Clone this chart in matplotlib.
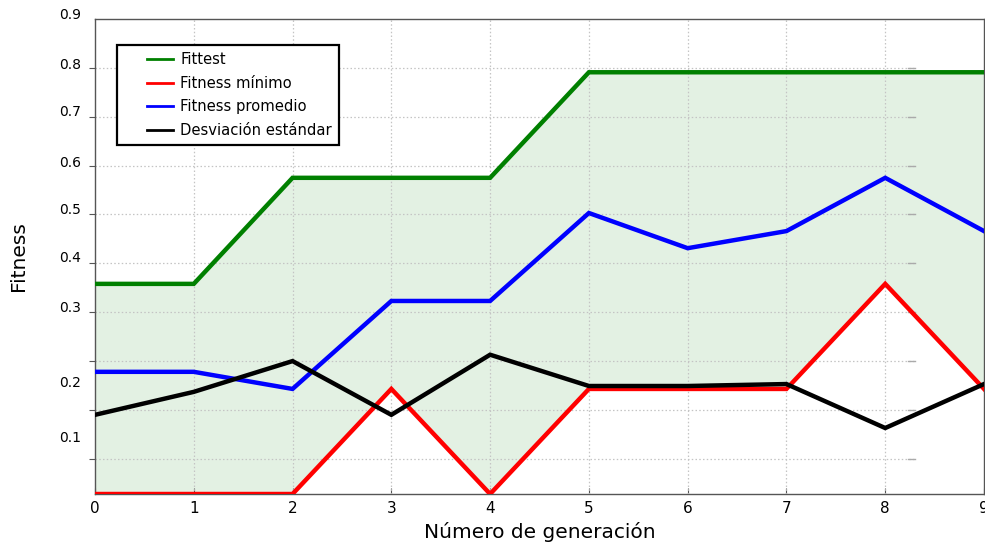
import matplotlib
matplotlib.use("Agg")
import matplotlib.pyplot as plt
from matplotlib.legend_handler import HandlerLine2D
from matplotlib.lines import Line2D
import matplotlib.transforms as mtransforms
import numpy as np

# ---- data ----
generaciones = [0, 1, 2, 3, 4, 5, 6, 7, 8, 9]
fittest = [0.358, 0.358, 0.575, 0.575, 0.575, 0.791, 0.791, 0.791, 0.791, 0.791]
fitness_minimo = [-0.072, -0.072, -0.072, 0.143, -0.072, 0.143, 0.143, 0.143, 0.358, 0.143]
fitness_promedio = [0.178, 0.178, 0.143, 0.323, 0.323, 0.503, 0.431, 0.466, 0.575, 0.466]
desviacion = [0.090, 0.137, 0.200, 0.090, 0.213, 0.149, 0.149, 0.153, 0.063, 0.153]

series_labels = ["Fittest", "Fitness mínimo", "Fitness promedio", "Desviación estándar"]
x_tick_labels = ["0", "1", "2", "3", "4", "5", "6", "7", "8", "9"]
y_tick_labels = ["0.9", "0.8", "0.7", "0.6", "0.5", "0.4", "0.3", "0.2", "0.1"]

# layout (where the y labels sit in the reference)
y_label_pos = [0.908, 0.806, 0.710, 0.605, 0.509, 0.411, 0.309, 0.155, 0.043]
grid_levels = [0.0, 0.1, 0.2, 0.3, 0.4, 0.5, 0.6, 0.7, 0.8]

fig = plt.figure(figsize=(9.85, 5.45), dpi=100)
ax = fig.add_axes([95 / 985, 51 / 545, 889 / 985, 475 / 545])

ax.set_xlim(0, 9)
ax.set_ylim(-0.072, 0.9)

ax.fill_between(generaciones, fitness_minimo, fittest, color="green", alpha=0.11, linewidth=0, zorder=1)

colors = ["green", "red", "blue", "black"]
for ys, c, lab in zip([fittest, fitness_minimo, fitness_promedio, desviacion], colors, series_labels):
    ax.plot(generaciones, ys, color=c, lw=3.2, label=lab, zorder=3, solid_joinstyle="miter")

# grid
gcol = "#c4c4c4"
for xv in generaciones[1:-1]:
    ax.axvline(xv, color=gcol, lw=0.9, ls=(0, (1.2, 1.8)), zorder=2)
gx_end = 8.3 / 9
for yv in grid_levels:
    ax.axhline(yv, xmin=0, xmax=gx_end, color=gcol, lw=0.9, ls=(0, (1.2, 1.8)), zorder=2)
    ax.axhline(yv, xmin=gx_end - 0.008, xmax=gx_end, color="#aaaaaa", lw=1.0, zorder=2)

# ticks
ax.set_xticks(generaciones)
ax.set_xticklabels(x_tick_labels, fontsize=11)
ax.tick_params(axis="x", direction="in", length=4, width=0.8, color="#555555", pad=5, top=False)
ax.set_yticks(grid_levels)
ax.set_yticklabels([])
ax.tick_params(axis="y", direction="out", length=4, width=0.8, color="#555555", right=False)

trans = mtransforms.blended_transform_factory(ax.transAxes, ax.transData)
for lab, pos in zip(y_tick_labels, y_label_pos):
    ax.text(-0.016, pos, lab, transform=trans, ha="right", va="center", fontsize=10, clip_on=False)

for sp in ax.spines.values():
    sp.set_color("#555555")
    sp.set_linewidth(1.0)

ax.set_xlabel("Número de generación", fontsize=14.5, labelpad=4)
ax.set_ylabel("Fitness", fontsize=14.5, labelpad=41)


class ShiftedHandler(HandlerLine2D):
    def get_xdata(self, legend, xdescent, ydescent, width, height, fontsize):
        x0 = -xdescent + width * 0.47
        x1 = -xdescent + width
        xd = np.array([x0, x1])
        return xd, np.array([(x0 + x1) / 2])


handles = [Line2D([], [], color=c, lw=2) for c in colors]
leg = ax.legend(handles, series_labels, loc="upper left", bbox_to_anchor=((117 - 95) / 889, (494 - 45) / 475),
                borderaxespad=0, fontsize=10.6, handlelength=3.3, handletextpad=0.5, labelspacing=0.58,
                borderpad=0.5, fancybox=False, framealpha=1, edgecolor="black",
                handler_map={Line2D: ShiftedHandler()})
leg.get_frame().set_linewidth(1.6)
leg.set_zorder(5)

fig.savefig("out.png", dpi=100)
